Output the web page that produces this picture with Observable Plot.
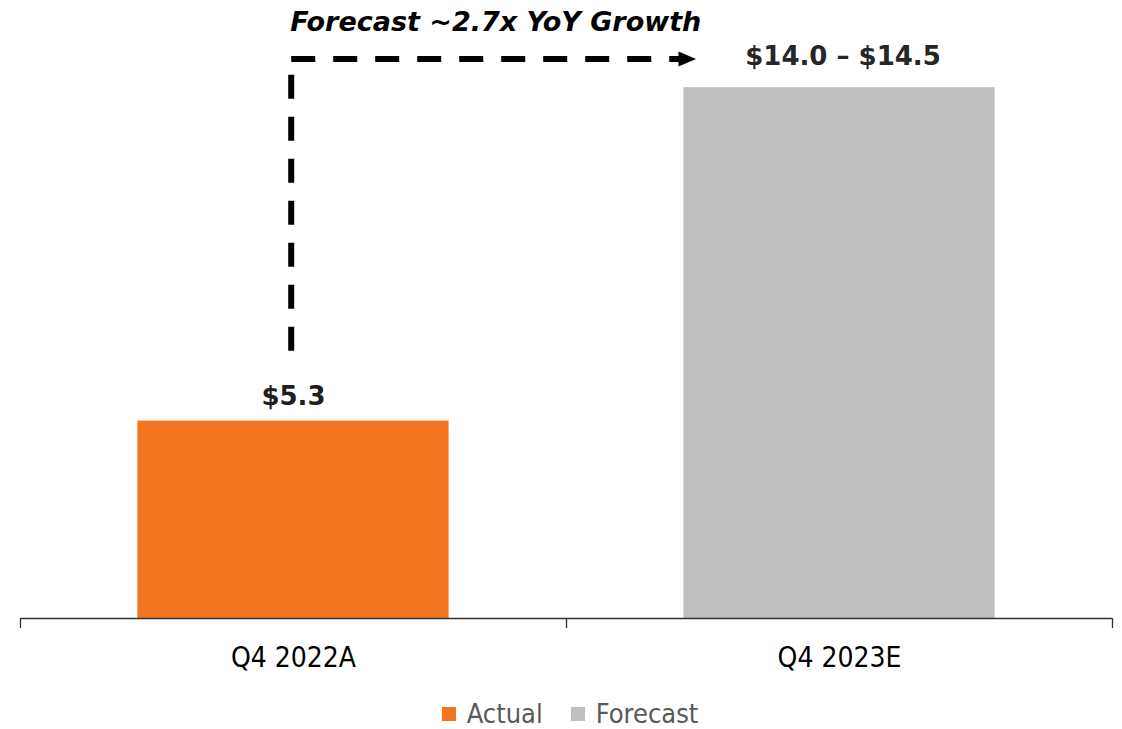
<!DOCTYPE html>
<html>
<head>
<meta charset="utf-8">
<script src="https://cdn.jsdelivr.net/npm/d3@7"></script>
<script src="https://cdn.jsdelivr.net/npm/@observablehq/plot@0.6"></script>
<style>
  html, body { margin: 0; padding: 0; background: #fff; overflow: hidden; }
  #chart svg { display: block; }
  .cond { font-family: "DejaVu Sans Condensed", "DejaVu Sans", sans-serif; font-stretch: condensed; }
  #legend { display: flex; justify-content: center; align-items: center; height: 34px; line-height: 34px;
            padding-left: 18px; padding-top: 3px; box-sizing: border-box; font-size: 27px; color: #595959; }
  #legend .item { display: flex; align-items: center; margin: 0 14px; }
  #legend .sw { width: 14px; height: 14px; margin-right: 11px; }
</style>
</head>
<body>
<div id="chart"></div>
<div id="legend" class="cond"></div>
<script>
// ---- data ----
const categories = ["Q4 2022A", "Q4 2023E"];
const series = ["Actual", "Forecast"];
const values = [5.3, 14.25];            // forecast drawn at midpoint of $14.0–$14.5
const valueLabels = ["$5.3", "$14.0 – $14.5"];
const colors = ["#F47521", "#BFBFBF"];
const annotation = "Forecast ~2.7x YoY Growth";
// dashed growth arrow (x in category units, y in $)
const arrowSegments = [
  {x1: 0.4958, y1: 7.19, x2: 0.4958, y2: 14.6},
  {x1: 0.4958, y1: 15.02, x2: 1.209, y2: 15.02}
];
const arrowHead = [{x: 1.2207, y: 15.02}];

// ---- table ----
const table = categories.map((c, i) => ({i, category: c, series: series[i], value: values[i], label: valueLabels[i]}));

const triangle = {
  draw(ctx) {
    ctx.moveTo(9, 0);
    ctx.lineTo(-8.5, -7.5);
    ctx.lineTo(-8.5, 7.5);
    ctx.closePath();
  }
};

const condFont = "'DejaVu Sans Condensed', 'DejaVu Sans', sans-serif";

const chart = Plot.plot({
  width: 1122,
  height: 695,
  marginLeft: 20,
  marginRight: 10,
  marginTop: 22,
  marginBottom: 77,
  style: {fontFamily: "'DejaVu Sans', sans-serif", background: "#fff", overflow: "visible"},
  x: {domain: [0, 2], axis: null},
  y: {domain: [0, 16], axis: null},
  color: {domain: series, range: colors},
  marks: [
    Plot.rectY(table, {x1: d => d.i + 0.215, x2: d => d.i + 0.785, y: "value", fill: "series"}),
    Plot.ruleY([0], {stroke: "#333", strokeWidth: 1.3}),
    Plot.axisX({ticks: [0, 1, 2], tickSize: 10, tickFormat: () => "", stroke: "#333", strokeWidth: 1.3, label: null}),
    Plot.axisX({ticks: [0.5, 1.5], tickSize: 0, tickPadding: 29, tickFormat: d => categories[Math.floor(d)],
                fontSize: 28, fontFamily: condFont, fill: "#000", label: null}),
    Plot.text([table[0]], {x: d => d.i + 0.5, y: "value", text: "label", dy: -16, lineAnchor: "bottom",
                fontSize: 26, fontWeight: "bold", fill: "#1e1e1e"}),
    Plot.text([table[1]], {x: d => d.i + 0.5, y: "value", text: "label", dx: 3.5, dy: -22.5, lineAnchor: "bottom",
                fontSize: 26, fontWeight: "bold", fill: "#262626"}),
    Plot.link(arrowSegments, {x1: "x1", y1: "y1", x2: "x2", y2: "y2", stroke: "#000", strokeWidth: 6,
                strokeDasharray: "24,18", strokeLinecap: "butt"}),
    Plot.dot(arrowHead, {x: "x", y: "y", symbol: triangle, fill: "#000", stroke: "none"}),
    Plot.text([annotation], {x: () => arrowSegments[1].x1, y: () => arrowSegments[1].y1, text: d => d,
                textAnchor: "start", lineAnchor: "bottom", dx: -1, dy: -28.5,
                fontSize: 27, fontWeight: "bold", fontStyle: "italic", fill: "#000"})
  ]
});
document.getElementById("chart").appendChild(chart);

// legend
const legend = document.getElementById("legend");
series.forEach((s, i) => {
  const item = document.createElement("div");
  item.className = "item";
  const sw = document.createElement("span");
  sw.className = "sw";
  sw.style.background = colors[i];
  const t = document.createElement("span");
  t.textContent = s;
  item.appendChild(sw);
  item.appendChild(t);
  legend.appendChild(item);
});
</script>
</body>
</html>
